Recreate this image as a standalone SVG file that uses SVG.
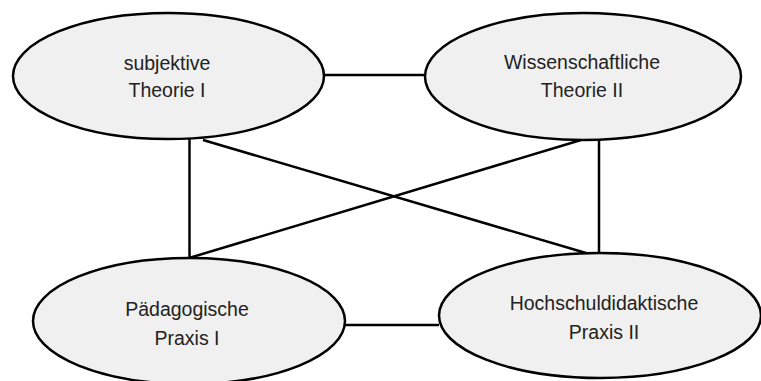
<svg xmlns="http://www.w3.org/2000/svg" width="761" height="381" viewBox="0 0 761 381">
  <style>
    .node ellipse { fill: #f0f0f0; stroke: #000; stroke-width: 2.5; }
    .node text { font-family: "Liberation Sans", Arial, sans-serif; font-size: 19.5px; fill: #222; text-anchor: middle; }
    #connectors line { stroke: #000; stroke-width: 2.5; }
  </style>
  <rect width="761" height="381" fill="#fff"/>

  <g id="connectors">
    <line x1="324" y1="75" x2="425" y2="75"/>
    <line x1="345" y1="325" x2="439" y2="325"/>
    <line x1="189.5" y1="139" x2="189.5" y2="258"/>
    <line x1="599" y1="140" x2="599" y2="253"/>
    <line x1="203" y1="140" x2="586" y2="253"/>
    <line x1="581" y1="140" x2="189" y2="258"/>
  </g>

  <g id="node-subjektive-theorie" class="node">
    <ellipse cx="168.5" cy="76" rx="155.5" ry="63"/>
    <text x="167" y="70">subjektive</text>
    <text x="167" y="97">Theorie I</text>
  </g>

  <g id="node-wissenschaftliche-theorie" class="node">
    <ellipse cx="583" cy="76.5" rx="158" ry="63.5"/>
    <text x="582" y="69">Wissenschaftliche</text>
    <text x="582" y="97">Theorie II</text>
  </g>

  <g id="node-paedagogische-praxis" class="node">
    <ellipse cx="189" cy="321" rx="156" ry="63"/>
    <text x="187" y="316">Pädagogische</text>
    <text x="187" y="345">Praxis I</text>
  </g>

  <g id="node-hochschuldidaktische-praxis" class="node">
    <ellipse cx="600" cy="315.5" rx="161" ry="62.5"/>
    <text x="604" y="310">Hochschuldidaktische</text>
    <text x="604" y="339">Praxis II</text>
  </g>
</svg>
